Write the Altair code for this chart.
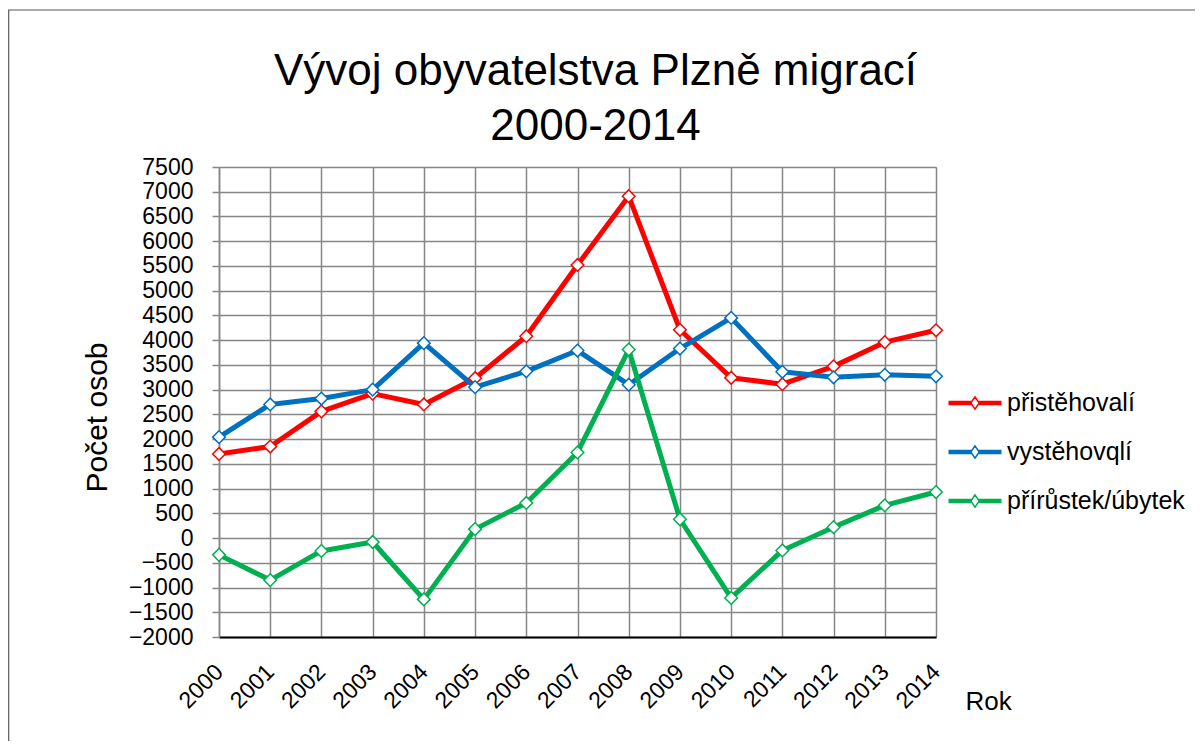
import altair as alt
import pandas as pd

# ---- data ----
years = list(range(2000, 2015))
pristehovali = [1700, 1850, 2560, 2920, 2700, 3230, 4080, 5520, 6910, 4210, 3240, 3110, 3470, 3960, 4200]
vystehovali = [2040, 2700, 2820, 3000, 3940, 3050, 3370, 3790, 3100, 3830, 4450, 3360, 3250, 3300, 3270]
prirustek = [-340, -850, -260, -80, -1240, 180, 710, 1730, 3810, 380, -1210, -250, 220, 660, 930]
series_names = ["přistěhovalí", "vystěhovqlí", "přírůstek/úbytek"]
series_colors = ["#FF0000", "#0070C0", "#00B050"]
y_ticks = list(range(-2000, 7501, 500))
title_lines = ["Vývoj obyvatelstva Plzně migrací", "2000-2014"]
y_title = "Počet osob"
x_title = "Rok"

df = pd.DataFrame({
    "rok": years * 3,
    "hodnota": pristehovali + vystehovali + prirustek,
    "serie": [series_names[0]] * len(years) + [series_names[1]] * len(years) + [series_names[2]] * len(years),
})

FONT = "Liberation Sans"
GRID = "#868686"

# legend symbol: thick line (several parallel strokes) with a hollow diamond in the middle
legend_path = (
    "M-1.4,-0.08H-0.17M-1.4,-0.027H-0.2M-1.4,0.027H-0.2M-1.4,0.08H-0.17"
    "M0.17,-0.08H1.4M0.2,-0.027H1.4M0.2,0.027H1.4M0.17,0.08H1.4"
    "M0,-0.32L0.22,0L0,0.32L-0.22,0Z"
)

frame = alt.Chart(pd.DataFrame({"a": [0]})).mark_rect(
    fillOpacity=0, stroke="#595959", strokeWidth=1.2
).encode(
    x=alt.value(-210.3), x2=alt.value(1000), y=alt.value(-157), y2=alt.value(600)
)

lines = alt.Chart(df).mark_line(
    strokeWidth=5,
    strokeJoin="round",
    point=alt.OverlayMarkDef(shape="diamond", size=160, filled=False, fill="white",
                             fillOpacity=1, strokeWidth=1.5),
).encode(
    x=alt.X(
        "rok:Q",
        scale=alt.Scale(domain=[2000, 2014], nice=False, zero=False),
        axis=alt.Axis(
            values=years, format="d", labelAngle=-45, labelAlign="right",
            labelBaseline="middle", labelPadding=31, labelFlush=False,
            labelOverlap=False, labelFont=FONT, labelFontSize=23, labelColor="black",
            ticks=False, domainColor="black", domainWidth=2,
            grid=True, gridColor=GRID, gridWidth=1.5,
            title=x_title, titleX=746, titleY=72, titleAlign="left",
            titleBaseline="alphabetic", titleFont=FONT, titleFontSize=26,
            titleFontWeight="normal", titleColor="black",
        ),
    ),
    y=alt.Y(
        "hodnota:Q",
        scale=alt.Scale(domain=[-2000, 7500], nice=False, zero=False),
        axis=alt.Axis(
            values=y_ticks, format="d", labelPadding=19, labelFlush=False,
            labelOverlap=False, labelFont=FONT, labelFontSize=23, labelColor="black",
            ticks=True, tickSize=7, tickColor=GRID, tickWidth=1.5,
            domainColor=GRID, domainWidth=1.5,
            grid=True, gridColor=GRID, gridWidth=1.5,
            title=y_title, titleFont=FONT, titleFontSize=30, titleFontWeight="normal",
            titleColor="black", titleX=-107, titleY=250, titleBaseline="bottom",
            titleAngle=270, titleAlign="center",
        ),
    ),
    color=alt.Color(
        "serie:N",
        scale=alt.Scale(domain=series_names, range=series_colors),
        legend=alt.Legend(
            title=None, orient="none", legendX=736, legendY=216,
            symbolType=legend_path, symbolSize=1434, symbolStrokeWidth=1.5,
            symbolFillColor="white", symbolOpacity=1,
            labelFont=FONT, labelFontSize=25, labelColor="black", labelLimit=400,
            labelOffset=12, rowPadding=16, padding=0,
        ),
    ),
)

chart = alt.layer(frame, lines).properties(
    width=717,
    height=470,
    autosize=alt.AutoSizeParams(type="none"),
    padding={"left": 211, "top": 159, "right": 259, "bottom": 104},
    title=alt.TitleParams(
        text=title_lines, font=FONT, fontSize=44, fontWeight="normal",
        color="black", anchor="middle", frame="group", dx=18, offset=-140, lineHeight=55,
    ),
).configure_view(stroke="black", strokeWidth=1.5).configure(background="white")

chart.save("out.html", embed_options={"renderer": "svg", "actions": False})
